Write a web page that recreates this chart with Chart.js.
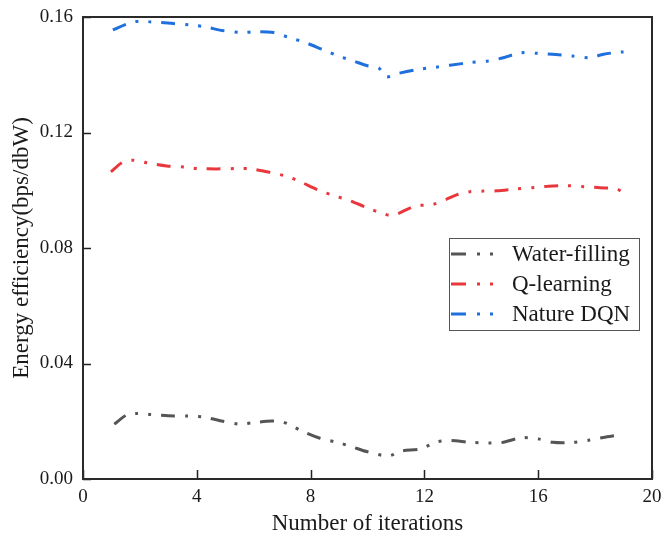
<!DOCTYPE html>
<html><head><meta charset="utf-8">
<script src="https://cdn.jsdelivr.net/npm/chart.js@4.4.1/dist/chart.umd.min.js"></script>
<style>html,body{margin:0;padding:0;background:#fff}</style>
</head><body>
<canvas id="c" width="662" height="544"></canvas>
<script>
const seriesNames = ['Water-filling', 'Q-learning', 'Nature DQN'];

const waterX = [1.1, 1.54, 1.89, 2.41, 3.0, 3.7, 4.23, 4.82, 5.52, 5.99, 6.63, 7.0, 7.28, 7.74, 8.33, 8.97, 9.44, 9.97, 10.73, 11.2, 11.85, 12.45, 12.92, 13.6, 14.25, 14.72, 15.42, 16.0, 16.51, 17.12, 17.82, 18.29, 18.76];
const waterY = [0.0190, 0.0222, 0.0227, 0.0223, 0.0219, 0.0218, 0.0215, 0.0202, 0.0190, 0.0195, 0.0201, 0.0198, 0.0187, 0.0164, 0.0141, 0.0126, 0.0112, 0.0095, 0.0080, 0.0097, 0.0104, 0.0129, 0.0133, 0.0127, 0.0125, 0.0126, 0.0143, 0.0139, 0.0127, 0.0126, 0.0135, 0.0144, 0.0151];

const qX = [0.98, 1.4, 1.77, 2.3, 2.94, 3.6, 4.05, 4.7, 5.4, 5.9, 6.57, 7.2, 7.63, 8.27, 8.86, 9.33, 10.0, 10.58, 10.9, 11.67, 12.29, 12.78, 13.13, 13.6, 14.07, 14.54, 15.18, 15.89, 16.36, 17.0, 17.64, 18.17, 18.76, 18.99];
const qY = [0.1064, 0.1097, 0.1104, 0.1094, 0.1084, 0.1080, 0.1075, 0.1074, 0.1075, 0.1074, 0.1062, 0.1047, 0.1030, 0.1001, 0.0980, 0.0966, 0.0939, 0.0918, 0.0913, 0.0945, 0.0951, 0.0969, 0.0984, 0.0995, 0.0997, 0.0998, 0.1004, 0.1010, 0.1014, 0.1016, 0.1012, 0.1009, 0.1004, 0.0992];

const dqnX = [1.05, 1.6, 2.0, 2.4, 3.1, 3.8, 4.3, 4.9, 5.6, 6.05, 6.7, 7.3, 7.8, 8.45, 9.0, 9.5, 10.0, 10.4, 10.65, 11.1, 11.8, 12.4, 12.9, 13.6, 14.25, 14.7, 15.4, 16.0, 16.5, 17.2, 17.8, 18.3, 18.9, 19.0];
const dqnY = [0.1555, 0.1578, 0.1586, 0.1583, 0.1578, 0.1572, 0.1566, 0.1553, 0.1546, 0.1549, 0.1546, 0.1527, 0.1512, 0.1486, 0.1464, 0.1448, 0.1431, 0.1423, 0.1393, 0.1405, 0.1419, 0.1426, 0.1433, 0.1442, 0.1448, 0.1457, 0.1476, 0.1474, 0.1471, 0.1465, 0.1459, 0.1471, 0.1479, 0.1479];

const xTicks = [0, 4, 8, 12, 16, 20];
const yTicks = [0.00, 0.04, 0.08, 0.12, 0.16];

const colors = ['#555555', '#e8383d', '#1f6fdc'];
const dashPattern = [14, 10, 3, 10, 3, 10];
const serif = "'Liberation Serif', 'Times New Roman', serif";

function pts(xs, ys) { return xs.map((x, i) => ({ x: x, y: ys[i] })); }

const datasets = [
  { label: seriesNames[0], data: pts(waterX, waterY) },
  { label: seriesNames[1], data: pts(qX, qY) },
  { label: seriesNames[2], data: pts(dqnX, dqnY) }
].map((d, i) => Object.assign(d, {
  borderColor: colors[i], backgroundColor: colors[i], borderWidth: 3,
  borderDash: dashPattern, borderCapStyle: 'butt', pointRadius: 0,
  tension: 0.3, fill: false
}));

const framePlugin = {
  id: 'frame',
  afterDraw(chart) {
    const { ctx, chartArea: a, scales } = chart;
    ctx.save();
    ctx.strokeStyle = '#222';
    ctx.lineWidth = 1.5;
    ctx.beginPath();
    xTicks.forEach(v => {
      const px = Math.round(scales.x.getPixelForValue(v)) + 0.5;
      ctx.moveTo(px, a.bottom); ctx.lineTo(px, a.bottom - 9);
    });
    yTicks.forEach(v => {
      const py = Math.round(scales.y.getPixelForValue(v)) + 0.5;
      ctx.moveTo(a.left, py); ctx.lineTo(a.left + 8, py);
    });
    ctx.stroke();
    ctx.strokeStyle = '#2a2a2a';
    ctx.lineWidth = 2;
    ctx.strokeRect(a.left, a.top, a.right - a.left, a.bottom - a.top);
    // legend
    const lx = 449, ly = 238, lw = 190, lh = 92;
    ctx.fillStyle = '#fff';
    ctx.fillRect(lx, ly, lw, lh);
    ctx.strokeStyle = '#555';
    ctx.lineWidth = 1;
    ctx.strokeRect(lx + 0.5, ly + 0.5, lw, lh);
    ctx.font = '23px ' + serif;
    ctx.textBaseline = 'middle';
    ctx.textAlign = 'left';
    chart.data.datasets.forEach((ds, i) => {
      const y = ly + 16 + i * 30;
      ctx.strokeStyle = ds.borderColor;
      ctx.lineWidth = 3;
      ctx.setLineDash([15, 11, 3, 10, 3, 10]);
      ctx.beginPath();
      ctx.moveTo(lx + 2, y); ctx.lineTo(lx + 45, y);
      ctx.stroke();
      ctx.setLineDash([]);
      ctx.fillStyle = '#1a1a1a';
      ctx.fillText(ds.label, lx + 63, y + 1);
    });
    ctx.restore();
  }
};

new Chart(document.getElementById('c'), {
  type: 'line',
  data: { datasets: datasets },
  plugins: [framePlugin],
  options: {
    responsive: false,
    animation: false,
    devicePixelRatio: 1,
    layout: { padding: { top: 17, right: 10, left: 0, bottom: 0 } },
    plugins: { legend: { display: false }, tooltip: { enabled: false } },
    scales: {
      x: {
        type: 'linear', min: 0, max: 20,
        afterBuildTicks: s => { s.ticks = xTicks.map(v => ({ value: v })); },
        ticks: { font: { family: serif, size: 19 }, color: '#1a1a1a', padding: 7, maxRotation: 0 },
        grid: { display: false, drawTicks: false },
        border: { display: false },
        title: { display: true, text: 'Number of iterations', font: { family: serif, size: 23 }, color: '#1a1a1a', padding: { top: 0, bottom: 6 } },
        afterFit: s => { s.height = 65; s.paddingLeft = 0; s.paddingRight = 0; }
      },
      y: {
        type: 'linear', min: 0, max: 0.16,
        afterBuildTicks: s => { s.ticks = yTicks.map(v => ({ value: v })); },
        ticks: { font: { family: serif, size: 19 }, color: '#1a1a1a', padding: 10, callback: v => Number(v).toFixed(2) },
        grid: { display: false, drawTicks: false },
        border: { display: false },
        title: { display: true, text: 'Energy efficiency(bps/dbW)', font: { family: serif, size: 23 }, color: '#1a1a1a', padding: { top: 8, bottom: 0 } },
        afterFit: s => { s.width = 83; s.paddingTop = 0; s.paddingBottom = 0; }
      }
    }
  }
});
</script>
</body></html>
